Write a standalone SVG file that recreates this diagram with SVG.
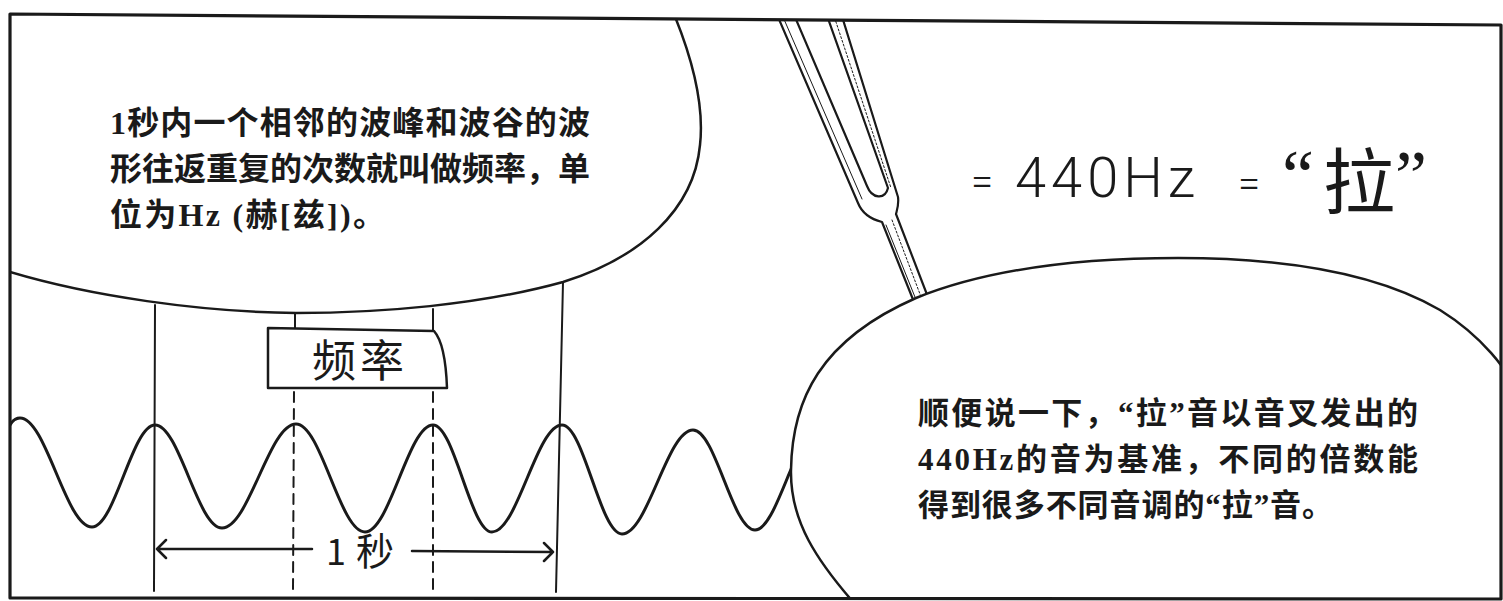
<svg xmlns="http://www.w3.org/2000/svg" width="1503" height="601" viewBox="0 0 1503 601">
  <style>
    .ink { fill: none; stroke: #1a1a1a; stroke-linecap: round; stroke-linejoin: round; }
    .balloon { fill: #ffffff; stroke: #1a1a1a; stroke-width: 2.5; }
    .body { font-family: "Liberation Serif", "Noto Sans CJK SC", serif; font-weight: 700; fill: #1a1a1a; }
    .hand { font-family: "Noto Sans CJK SC", sans-serif; font-weight: 400; fill: #1a1a1a; }
    .thin { font-family: Roboto, "Liberation Sans", sans-serif; font-weight: 300; fill: #1a1a1a; }
  </style>
  <defs>
    <clipPath id="panel">
      <polygon points="10,14 1501,25 1501,599 10,598"/>
    </clipPath>
  </defs>

  <rect x="0" y="0" width="1503" height="601" fill="#ffffff"/>

  <g clip-path="url(#panel)">
    <!-- sine wave, runs on under the right balloon -->
    <g id="wave">
      <path class="ink" stroke-width="3" d="M 10 425 Q 14 418 20 418
        C 46.2 418 65.8 527 92 527
        C 114.9 527 132.1 425 155 425
        C 179.3 425 197.7 528 222 528
        C 248.9 528 269.1 424 296 424
        C 321.1 424 339.9 532 365 532
        C 389.7 532 408.3 425 433 425
        C 454.4 425 470.6 532 492 532
        C 517.4 532 536.6 425 562 425
        C 583.8 425 600.2 534 622 534
        C 647.8 534 667.2 430 693 430
        C 715.5 430 732.5 530 755 530
        C 777.5 530 795 430 820 430"/>
    </g>

    <!-- guide lines, dashed markers and the one-second span -->
    <g id="connectors">
      <line class="ink" stroke-width="2" x1="155" y1="305" x2="154" y2="591"/>
      <line class="ink" stroke-width="2" x1="563" y1="282" x2="556" y2="592"/>
      <line class="ink" stroke-width="2" x1="295" y1="312" x2="295" y2="328"/>
      <line class="ink" stroke-width="2" x1="433" y1="309" x2="433" y2="331"/>
      <line class="ink" stroke-width="2" stroke-dasharray="10 7" stroke-linecap="butt" x1="294" y1="392" x2="293" y2="592"/>
      <line class="ink" stroke-width="2" stroke-dasharray="10 7" stroke-linecap="butt" x1="433" y1="392" x2="433" y2="592"/>
      <!-- span arrow -->
      <path class="ink" stroke-width="2.5" d="M 157 549 L 312 549 M 166 540 L 157 549 L 166 558"/>
      <path class="ink" stroke-width="2.5" d="M 412 551 L 553 552 M 544 543 L 553 552 L 544 561"/>
    </g>

    <g id="span-label">
      <text class="hand" x="326" y="565" font-size="36">1</text>
      <text class="hand" x="356" y="565" font-size="38">秒</text>
    </g>

    <!-- label box -->
    <g id="label-box">
      <path class="ink" fill="#ffffff" stroke-width="2.5" d="M 268 328 L 434 331 C 442 340 446 360 447 388 L 268 388 Z"/>
      <text class="hand" x="360" y="377" font-size="44" letter-spacing="4" text-anchor="middle">频率</text>
    </g>

    <!-- left speech balloon -->
    <g id="balloon-left">
      <path class="balloon" d="M 0 0 L 668 0 C 690 50 705 100 700 145 C 694 210 640 258 563 282 C 480 305 380 313 296 313 C 200 312 90 296 10 272 L 0 268 Z"/>
      <text class="body" font-size="32">
        <tspan x="110" y="134" textLength="480" lengthAdjust="spacing">1秒内一个相邻的波峰和波谷的波</tspan>
        <tspan x="110" y="180" textLength="480" lengthAdjust="spacing">形往返重复的次数就叫做频率，单</tspan>
        <tspan x="110" y="226" textLength="275" lengthAdjust="spacing">位为Hz (赫[兹])。</tspan>
      </text>
    </g>

    <!-- tuning fork -->
    <g id="fork">
      <path class="ink" stroke-width="2.2" d="M 775 10 L 858 203 C 862 213 870 219 882 222 L 918 312"/>
      <path class="ink" stroke-width="2.2" d="M 840 10 L 898 197 C 899 205 897 210 896 214 L 931 305"/>
      <path class="ink" stroke-width="2.2" d="M 792 10 L 867 186 C 872 199 885 200 888 188 L 825 10"/>
      <path class="ink" stroke-width="1" d="M 780 10 L 862 199 M 886 225 L 921 312"/>
      <path class="ink" stroke-width="1" stroke="#777777" stroke-dasharray="2 2" d="M 832 10 L 891 188 M 892 220 L 926 310"/>
    </g>

    <!-- right speech balloon -->
    <g id="balloon-right">
      <path class="balloon" d="M 862 612 C 815 560 790 520 791 470 C 792 400 820 340 916 298 C 990 268 1080 258 1178 258 C 1290 258 1380 275 1440 310 C 1480 335 1510 370 1520 400 L 1520 612 Z"/>
      <text class="body" font-size="31">
        <tspan x="918" y="424" textLength="500" lengthAdjust="spacing">顺便说一下，“拉”音以音叉发出的</tspan>
        <tspan x="918" y="470" textLength="500" lengthAdjust="spacing">440Hz的音为基准，不同的倍数能</tspan>
        <tspan x="918" y="516" textLength="415" lengthAdjust="spacing">得到很多不同音调的“拉”音。</tspan>
      </text>
    </g>

    <!-- pitch equation -->
    <g id="pitch">
      <text class="thin" x="971" y="195" font-size="40" font-weight="400">=</text>
      <text class="thin" x="1015" y="197" font-size="56" letter-spacing="5">440Hz</text>
      <text class="thin" x="1238" y="197" font-size="40" font-weight="400">=</text>
      <text x="1282" y="200" font-family="Liberation Serif, serif" font-size="72" fill="#1a1a1a">“</text>
      <text class="hand" x="1359" y="208" font-size="72" font-weight="500" text-anchor="middle">拉</text>
      <text x="1395" y="200" font-family="Liberation Serif, serif" font-size="72" fill="#1a1a1a">”</text>
    </g>
  </g>

  <!-- panel border -->
  <g id="frame">
    <polygon class="ink" stroke-width="3.2" points="10,14 1501,25 1501,599 10,598"/>
  </g>
</svg>
